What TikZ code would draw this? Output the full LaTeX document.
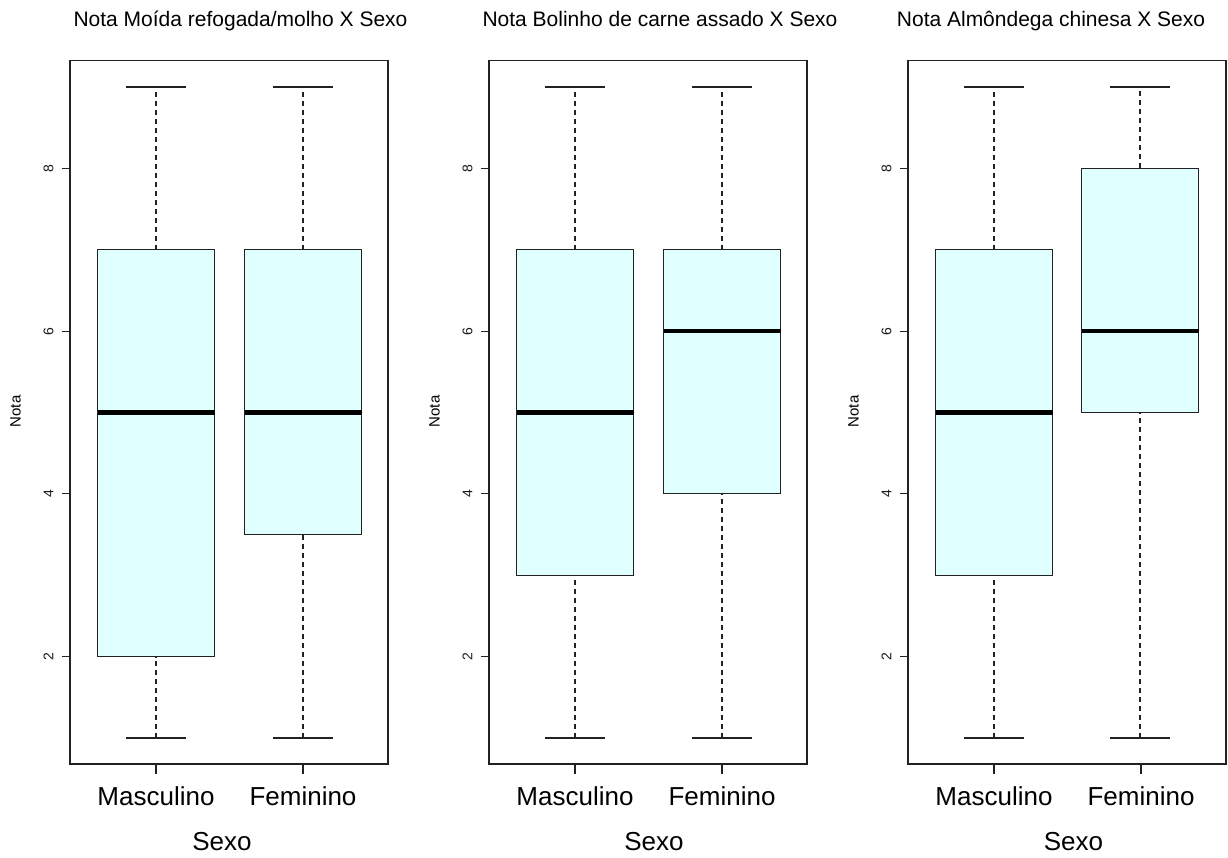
\documentclass[tikz,border=0pt]{standalone}
\usepackage{fontspec}
\setmainfont{Liberation Sans}
\definecolor{boxcyan}{HTML}{E0FFFF}
\definecolor{linegray}{HTML}{222222}

\newcommand{\drawbox}[6]{%
	\draw[whisk] (#1,#2) -- (#1,#3) (#1,#5) -- (#1,#6);
	\draw[capline] ({#1-30},#2) -- ({#1+30},#2) ({#1-30},#6) -- ({#1+30},#6);
	\draw[iqr] ({#1-58.5},#3) rectangle ({#1+58.5},#5);
	\draw[med] ({#1-58.5},#4) -- ({#1+58.5},#4);
}

\begin{document}
\begin{tikzpicture}[x=1pt,y=1pt,
	frame/.style={draw=linegray,line width=1.1pt},
	tickline/.style={draw=linegray,line width=1.1pt},
	whisk/.style={draw=linegray,line width=1.1pt,dash pattern=on 5pt off 4pt},
	capline/.style={draw=linegray,line width=1.3pt},
	iqr/.style={draw=linegray,fill=boxcyan,line width=1.1pt},
	med/.style={draw=black,line width=4.5pt},
	title/.style={font=\fontsize{21}{25}\selectfont,anchor=base},
	ticklab/.style={font=\fontsize{14}{16}\selectfont,text=black!90,rotate=90},
	ylab/.style={font=\fontsize{15}{18}\selectfont,rotate=90},
	grplab/.style={font=\fontsize{26}{30}\selectfont,anchor=base},
	]
	\useasboundingbox (0,0) rectangle (1228,858);
	\foreach \l/\n/\t/\tx/\sx in {
		70/p1/{Nota Moída refogada/molho X Sexo}/170.5/152,
		489/p2/{Nota Bolinho de carne assado X Sexo}/171/165,
		908/p3/{Nota Almôndega chinesa X Sexo}/143/165.5}{
		\begin{scope}[xshift=\l pt,name prefix=\n-]
			\node[title] (title) at (\tx,831) {\t};
			\node[ylab] (nota) at (-54.5,446.5) {Nota};
			\node[grplab] (masc) at (86,52) {Masculino};
			\node[grplab] (fem) at (233,52) {Feminino};
			\node[grplab] (sexo) at (\sx,7) {Sexo};
			\begin{scope}[yshift=38.625pt,y=81.375pt]
				\draw[frame] (0,0.68) rectangle (318,9.32);
				\foreach \v in {2,4,6,8}{
					\draw[tickline] (0,\v) -- (-8,\v);
					\node[ticklab] (tick\v) at (-21.5,\v) {\v};
				}
				\draw[tickline] (86,0.68) -- ++(0pt,-10pt);
				\draw[tickline] (233,0.68) -- ++(0pt,-10pt);
			\end{scope}
		\end{scope}
	}
	\begin{scope}[xshift=70pt,yshift=38.625pt,y=81.375pt]
		\drawbox{86}{1}{2}{5}{7}{9}
		\drawbox{233}{1}{3.5}{5}{7}{9}
	\end{scope}
	\begin{scope}[xshift=489pt,yshift=38.625pt,y=81.375pt]
		\drawbox{86}{1}{3}{5}{7}{9}
		\drawbox{233}{1}{4}{6}{7}{9}
	\end{scope}
	\begin{scope}[xshift=908pt,yshift=38.625pt,y=81.375pt]
		\drawbox{86}{1}{3}{5}{7}{9}
		\drawbox{232}{1}{5}{6}{8}{9}
	\end{scope}
\end{tikzpicture}
\end{document}
